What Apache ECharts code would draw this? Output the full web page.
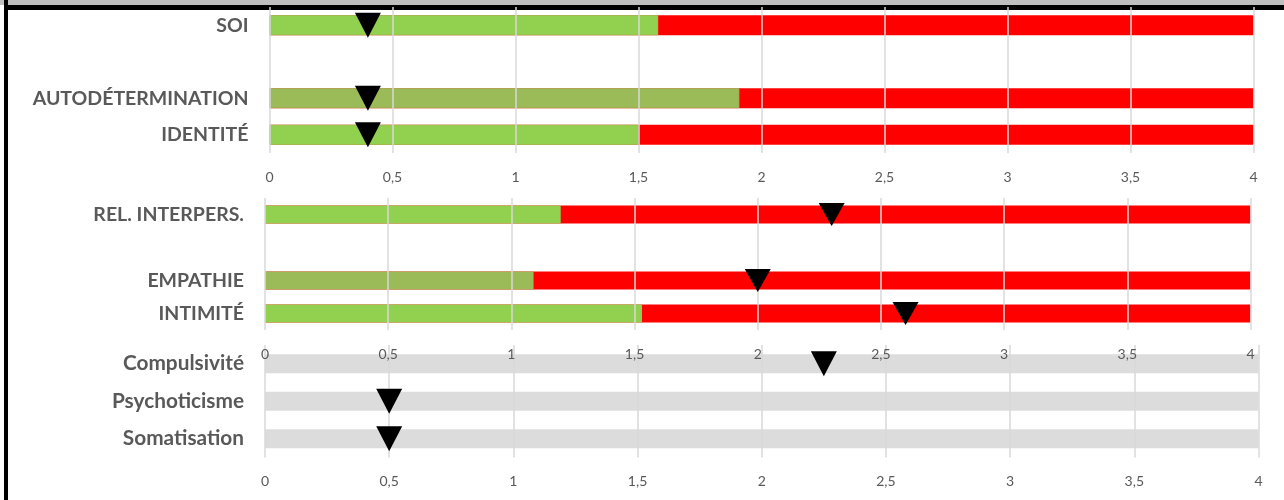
<!DOCTYPE html>
<html>
<head>
<meta charset="utf-8">
<script src="https://cdn.jsdelivr.net/npm/echarts@6/dist/echarts.min.js"></script>
<style>
html,body{margin:0;padding:0;background:#fff;}
#chart{width:1284px;height:500px;}
</style>
</head>
<body>
<div id="chart"></div>
<script>
// ---- data ----
const xTicks = ['0', '0,5', '1', '1,5', '2', '2,5', '3', '3,5', '4'];
const scaleMax = 4;

const panel1Cats = ['SOI', '', 'AUTODÉTERMINATION', 'IDENTITÉ'];
const panel1Red = [4, null, 4, 4];
const panel1Green = [1.58, null, 1.91, 1.50];
const panel1GreenColors = ['#92D050', null, '#9BBB59', '#92D050'];
const panel1Marker = [0.40, null, 0.40, 0.40];

const panel2Cats = ['REL. INTERPERS.', '', 'EMPATHIE', 'INTIMITÉ'];
const panel2Red = [4, null, 4, 4];
const panel2Green = [1.20, null, 1.09, 1.53];
const panel2GreenColors = ['#92D050', null, '#9BBB59', '#92D050'];
const panel2Marker = [2.30, null, 2.00, 2.60];

const panel3Cats = ['Compulsivité', 'Psychoticisme', 'Somatisation'];
const panel3Grey = [4, 4, 4];
const panel3Marker = [2.25, 0.50, 0.50];

// ---- build ----
const labelColor = '#595959';
const tickFont = 'Lato, "Open Sans", sans-serif';
const catFont = 'Lato, "Open Sans", sans-serif';

const grids = [
  {left: 269.5, right: 30.5, top: 7, height: 146},
  {left: 265, right: 33.5, top: 198, height: 132},
  {left: 265, right: 25.5, top: 345, height: 112.5}
];

function xAx(i) {
  return {
    type: 'value', gridIndex: i, min: 0, max: scaleMax, interval: 0.5, z: 5,
    axisLine: {show: false}, axisTick: {show: false},
    splitLine: {show: true, lineStyle: {color: '#D9D9D9', width: 1.5}},
    axisLabel: {
      color: labelColor, fontSize: 14, fontFamily: tickFont, margin: 17,
      formatter: v => xTicks[Math.round(v * 2)]
    }
  };
}
function yAx(i, cats, fs) {
  return {
    type: 'category', gridIndex: i, data: cats, inverse: true,
    axisLine: {show: false}, axisTick: {show: false}, splitLine: {show: false},
    axisLabel: {color: labelColor, fontSize: fs, fontWeight: 'bold', fontFamily: catFont, margin: 21}
  };
}
function markerData(arr) {
  const out = [];
  arr.forEach((v, i) => { if (v !== null) out.push([v, i]); });
  return out;
}
function greenData(vals, cols) {
  return vals.map((v, i) => v === null ? null : {value: v, itemStyle: {color: cols[i], borderColor: cols[i], borderWidth: 1}});
}
function markerSeries(i, arr, size) {
  return {
    type: 'scatter', xAxisIndex: i, yAxisIndex: i, data: markerData(arr),
    symbol: 'triangle', symbolRotate: 180, symbolSize: size,
    itemStyle: {color: '#000', opacity: 1}, z: 10, silent: true
  };
}

const option = {
  animation: false,
  backgroundColor: '#fff',
  grid: grids,
  xAxis: [xAx(0), xAx(1), xAx(2)],
  yAxis: [yAx(0, panel1Cats, 19.5), yAx(1, panel2Cats, 19.5), yAx(2, panel3Cats, 20.8)],
  series: [
    {type: 'bar', xAxisIndex: 0, yAxisIndex: 0, data: panel1Red, barWidth: 20, barGap: '-100%', itemStyle: {color: '#FF0000'}, silent: true},
    {type: 'bar', xAxisIndex: 0, yAxisIndex: 0, data: greenData(panel1Green, panel1GreenColors), barWidth: 20, barGap: '-100%', silent: true},
    markerSeries(0, panel1Marker, [26, 25]),
    {type: 'bar', xAxisIndex: 1, yAxisIndex: 1, data: panel2Red, barWidth: 18, barGap: '-100%', itemStyle: {color: '#FF0000'}, silent: true},
    {type: 'bar', xAxisIndex: 1, yAxisIndex: 1, data: greenData(panel2Green, panel2GreenColors), barWidth: 18, barGap: '-100%', silent: true},
    markerSeries(1, panel2Marker, [26, 23]),
    {type: 'bar', xAxisIndex: 2, yAxisIndex: 2, data: panel3Grey, barWidth: 19, itemStyle: {color: '#DCDCDC'}, silent: true, z: 1},
    markerSeries(2, panel3Marker, [26, 25])
  ],
  graphic: [
    {type: 'rect', shape: {x: 0, y: 0, width: 1284, height: 5}, style: {fill: '#BFBFBF'}, z: -10},
    {type: 'rect', shape: {x: 4, y: 5, width: 1280, height: 5}, style: {fill: '#000'}, z: -10},
    {type: 'rect', shape: {x: 4, y: 0, width: 4, height: 500}, style: {fill: '#000'}, z: -10}
  ]
};

const chart = echarts.init(document.getElementById('chart'), null, {renderer: 'canvas'});
chart.setOption(option);
</script>
</body>
</html>
